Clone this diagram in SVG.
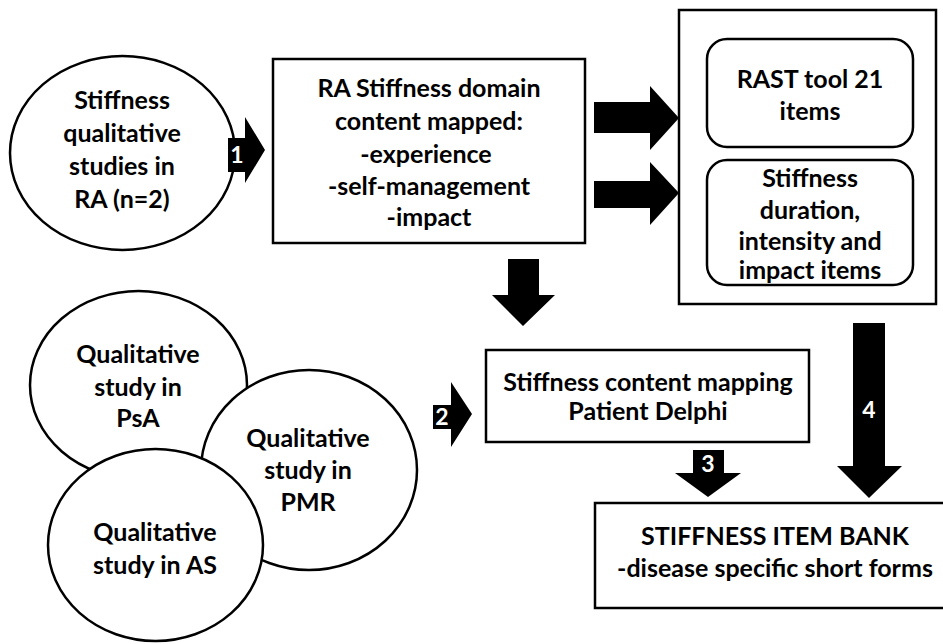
<svg xmlns="http://www.w3.org/2000/svg" width="943" height="644" viewBox="0 0 943 644">
<style>
.s{fill:#fff;stroke:#000;stroke-width:2.5}
.t{font-family:Lato,"Liberation Sans",sans-serif;font-weight:bold;font-size:25px;fill:#000;text-anchor:middle}
.n{font-family:Lato,"Liberation Sans",sans-serif;font-weight:bold;font-size:23px;fill:#fff;text-anchor:middle}
.a{fill:#000}
</style>
<rect width="943" height="644" fill="#fff"/>
<g id="ra-studies">
<ellipse class="s" cx="122.5" cy="153" rx="112.5" ry="97"/>
<text class="t" x="122" y="109">Stiffness</text>
<text class="t" x="122" y="142">qualitative</text>
<text class="t" x="122" y="175">studies in</text>
<text class="t" x="122" y="208">RA (n=2)</text>
</g>
<g id="ra-domain">
<rect class="s" x="273" y="59" width="312" height="184"/>
<text class="t" x="429" y="97">RA Stiffness domain</text>
<text class="t" x="429" y="130">content mapped:</text>
<text class="t" x="426" y="163">-experience</text>
<text class="t" x="429" y="195">-self-management</text>
<text class="t" x="429" y="226">-impact</text>
</g>
<g id="tools">
<rect class="s" x="679" y="10" width="257" height="294"/>
<g id="rast">
<rect class="s" x="707" y="39" width="206" height="108" rx="20"/>
<text class="t" x="810" y="88">RAST tool 21</text>
<text class="t" x="810" y="120">items</text>
</g>
<g id="duration">
<rect class="s" x="707" y="160" width="206" height="125" rx="20"/>
<text class="t" x="810" y="187">Stiffness</text>
<text class="t" x="810" y="219">duration,</text>
<text class="t" x="810" y="250">intensity and</text>
<text class="t" x="810" y="279">impact items</text>
</g>
</g>
<g id="psa">
<ellipse class="s" cx="138.5" cy="385" rx="108.5" ry="94"/>
<text class="t" x="138" y="363">Qualitative</text>
<text class="t" x="138" y="396">study in</text>
<text class="t" x="138" y="427">PsA</text>
</g>
<g id="pmr">
<ellipse class="s" cx="309" cy="470" rx="108" ry="100"/>
<text class="t" x="308" y="447">Qualitative</text>
<text class="t" x="308" y="479">study in</text>
<text class="t" x="308" y="511">PMR</text>
</g>
<g id="as">
<ellipse class="s" cx="155.5" cy="545" rx="107.5" ry="96"/>
<text class="t" x="155" y="541">Qualitative</text>
<text class="t" x="155" y="574">study in AS</text>
</g>
<g id="content-mapping">
<rect class="s" x="486" y="350" width="323" height="92"/>
<text class="t" x="648" y="391">Stiffness content mapping</text>
<text class="t" x="648" y="420">Patient Delphi</text>
</g>
<g id="item-bank">
<rect class="s" x="595" y="503" width="360" height="105"/>
<text class="t" x="775" y="545">STIFFNESS ITEM BANK</text>
<text class="t" x="775" y="577">-disease specific short forms</text>
</g>
<g id="connectors">
<path class="a" d="M228,138H245V117L265,150L245,183V172H228Z"/>
<text class="n" x="237" y="163">1</text>
<path class="a" d="M594,102H650V86L679,118L650,150V133H594Z"/>
<path class="a" d="M594,181H650V162L679,193L650,225V208H594Z"/>
<path class="a" d="M508,259H539V295H555L523,326L492,295H508Z"/>
<path class="a" d="M433,405H451V382L472,414L451,447V429H433Z"/>
<text class="n" x="442" y="425">2</text>
<path class="a" d="M693,450H724V473H741L708,497L675,473H693Z"/>
<text class="n" x="708" y="472">3</text>
<path class="a" d="M853,323H885V466H902L869,498L837,466H853Z"/>
<text class="n" x="869" y="418">4</text>
</g>
</svg>
